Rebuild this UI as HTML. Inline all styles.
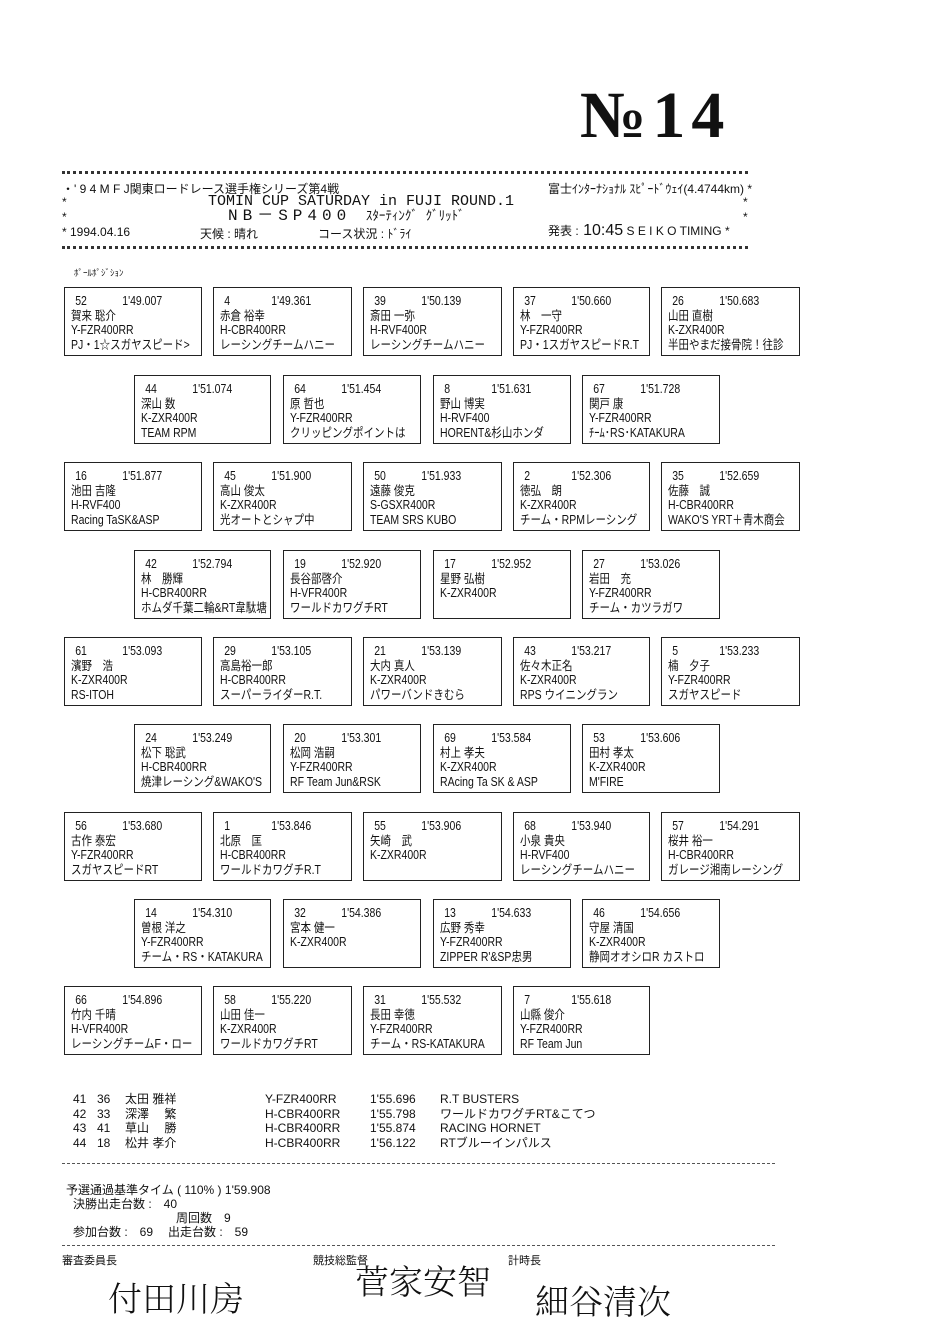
<!DOCTYPE html>
<html><head><meta charset="utf-8"><style>
body{margin:0;background:#fff;}
#p{position:relative;width:950px;height:1344px;overflow:hidden;background:#fff;color:#111;font-family:"Liberation Sans","Noto Sans CJK JP",sans-serif;font-size:12px;}
.a{position:absolute;white-space:nowrap;}
.b{position:absolute;width:135px;height:69px;border:1.5px solid #222;padding:6px 0 0 6px;box-sizing:border-box;line-height:14.5px;font-size:12.5px;overflow:hidden;}
.b .i{transform:scaleX(.84);transform-origin:0 0;white-space:nowrap;width:170px;}
.b span{display:inline-block;width:56px;padding-left:5px;}
.stars{position:absolute;left:62px;width:686px;height:0;border-top:3px dotted #333;}
.dash{position:absolute;left:62px;width:713px;border-top:1px dashed #555;}
.sig{position:absolute;font-family:"Noto Serif CJK SC","Noto Sans CJK JP",serif;font-size:34px;font-weight:300;white-space:nowrap;}
</style></head><body><div id="p">
<div class="a" style="left:580px;top:78px;font-family:'Liberation Serif',serif;font-size:66px;font-weight:bold;letter-spacing:6px;">№14</div>
<div class="stars" style="top:171px"></div>
<div class="stars" style="top:246px"></div>
<div class="a" style="left:62px;top:180px;">・' 9 4 M F J関東ロードレース選手権シリーズ第4戦</div>
<div class="a" style="left:548px;top:180px;">富士ｲﾝﾀｰﾅｼｮﾅﾙ ｽﾋﾟｰﾄﾞｳｪｲ(4.4744km) *</div>
<div class="a" style="left:62px;top:195px;">*</div><div class="a" style="left:743px;top:195px;">*</div>
<div class="a" style="left:208px;top:193px;font-family:'Liberation Mono',monospace;font-size:15px;">TOMIN CUP SATURDAY in FUJI ROUND.1</div>
<div class="a" style="left:62px;top:210px;">*</div><div class="a" style="left:743px;top:210px;">*</div>
<div class="a" style="left:228px;top:207px;font-family:'Liberation Mono',monospace;font-size:16px;letter-spacing:5px;line-height:18px;">NB－SP400 <span style="letter-spacing:0;font-size:13px;">ｽﾀｰﾃｨﾝｸﾞ ｸﾞﾘｯﾄﾞ</span></div>
<div class="a" style="left:62px;top:225px;">* 1994.04.16</div>
<div class="a" style="left:200px;top:225px;">天候 : 晴れ</div>
<div class="a" style="left:318px;top:225px;">コース状況 : ﾄﾞﾗｲ</div>
<div class="a" style="left:548px;top:222px;">発表 :<span style="font-size:16px;"> 10:45</span> S E I K O TIMING *</div>
<div class="a" style="left:74px;top:266px;font-size:9px;">ﾎﾟｰﾙﾎﾟｼﾞｼｮﾝ</div>

<div class="b" style="left:64px;top:287px;width:138px"><div class="i"><span>52</span>1'49.007<br>賀来 聡介<br>Y-FZR400RR<br>PJ・1☆スガヤスピード&gt;</div></div>
<div class="b" style="left:213px;top:287px;width:139px"><div class="i"><span>4</span>1'49.361<br>赤倉 裕幸<br>H-CBR400RR<br>レーシングチームハニー</div></div>
<div class="b" style="left:363px;top:287px;width:139px"><div class="i"><span>39</span>1'50.139<br>斎田 一弥<br>H-RVF400R<br>レーシングチームハニー</div></div>
<div class="b" style="left:513px;top:287px;width:137px"><div class="i"><span>37</span>1'50.660<br>林　一守<br>Y-FZR400RR<br>PJ・1スガヤスピードR.T</div></div>
<div class="b" style="left:661px;top:287px;width:139px"><div class="i"><span>26</span>1'50.683<br>山田 直樹<br>K-ZXR400R<br>半田やまだ接骨院！往診</div></div>

<div class="b" style="left:134px;top:375px;width:137px"><div class="i"><span>44</span>1'51.074<br>深山 数<br>K-ZXR400R<br>TEAM RPM</div></div>
<div class="b" style="left:283px;top:375px;width:138px"><div class="i"><span>64</span>1'51.454<br>原 哲也<br>Y-FZR400RR<br>クリッピングポイントは</div></div>
<div class="b" style="left:433px;top:375px;width:138px"><div class="i"><span>8</span>1'51.631<br>野山 博実<br>H-RVF400<br>HORENT&amp;杉山ホンダ</div></div>
<div class="b" style="left:582px;top:375px;width:138px"><div class="i"><span>67</span>1'51.728<br>関戸 康<br>Y-FZR400RR<br>ﾁｰﾑ･RS･KATAKURA</div></div>

<div class="b" style="left:64px;top:462px;width:138px"><div class="i"><span>16</span>1'51.877<br>池田 吉隆<br>H-RVF400<br>Racing TaSK&amp;ASP</div></div>
<div class="b" style="left:213px;top:462px;width:139px"><div class="i"><span>45</span>1'51.900<br>高山 俊太<br>K-ZXR400R<br>光オートとシャプ中</div></div>
<div class="b" style="left:363px;top:462px;width:139px"><div class="i"><span>50</span>1'51.933<br>遠藤 俊克<br>S-GSXR400R<br>TEAM SRS KUBO</div></div>
<div class="b" style="left:513px;top:462px;width:137px"><div class="i"><span>2</span>1'52.306<br>徳弘　朗<br>K-ZXR400R<br>チーム・RPMレーシング</div></div>
<div class="b" style="left:661px;top:462px;width:139px"><div class="i"><span>35</span>1'52.659<br>佐藤　誠<br>H-CBR400RR<br>WAKO'S YRT＋青木商会</div></div>

<div class="b" style="left:134px;top:550px;width:137px"><div class="i"><span>42</span>1'52.794<br>林　勝輝<br>H-CBR400RR<br>ホムダ千葉二輪&amp;RT韋駄塘</div></div>
<div class="b" style="left:283px;top:550px;width:138px"><div class="i"><span>19</span>1'52.920<br>長谷部啓介<br>H-VFR400R<br>ワールドカワグチRT</div></div>
<div class="b" style="left:433px;top:550px;width:138px"><div class="i"><span>17</span>1'52.952<br>星野 弘樹<br>K-ZXR400R</div></div>
<div class="b" style="left:582px;top:550px;width:138px"><div class="i"><span>27</span>1'53.026<br>岩田　充<br>Y-FZR400RR<br>チーム・カツラガワ</div></div>

<div class="b" style="left:64px;top:637px;width:138px"><div class="i"><span>61</span>1'53.093<br>濱野　浩<br>K-ZXR400R<br>RS-ITOH</div></div>
<div class="b" style="left:213px;top:637px;width:139px"><div class="i"><span>29</span>1'53.105<br>高島裕一郎<br>H-CBR400RR<br>スーパーライダーR.T.</div></div>
<div class="b" style="left:363px;top:637px;width:139px"><div class="i"><span>21</span>1'53.139<br>大内 真人<br>K-ZXR400R<br>パワーバンドきむら</div></div>
<div class="b" style="left:513px;top:637px;width:137px"><div class="i"><span>43</span>1'53.217<br>佐々木正名<br>K-ZXR400R<br>RPS ウイニングラン</div></div>
<div class="b" style="left:661px;top:637px;width:139px"><div class="i"><span>5</span>1'53.233<br>楠　夕子<br>Y-FZR400RR<br>スガヤスピード</div></div>

<div class="b" style="left:134px;top:724px;width:137px"><div class="i"><span>24</span>1'53.249<br>松下 聡武<br>H-CBR400RR<br>焼津レーシング&amp;WAKO'S</div></div>
<div class="b" style="left:283px;top:724px;width:138px"><div class="i"><span>20</span>1'53.301<br>松岡 浩嗣<br>Y-FZR400RR<br>RF Team Jun&amp;RSK</div></div>
<div class="b" style="left:433px;top:724px;width:138px"><div class="i"><span>69</span>1'53.584<br>村上 孝夫<br>K-ZXR400R<br>RAcing Ta SK &amp; ASP</div></div>
<div class="b" style="left:582px;top:724px;width:138px"><div class="i"><span>53</span>1'53.606<br>田村 孝太<br>K-ZXR400R<br>M'FIRE</div></div>

<div class="b" style="left:64px;top:812px;width:138px"><div class="i"><span>56</span>1'53.680<br>古作 泰宏<br>Y-FZR400RR<br>スガヤスピードRT</div></div>
<div class="b" style="left:213px;top:812px;width:139px"><div class="i"><span>1</span>1'53.846<br>北原　匡<br>H-CBR400RR<br>ワールドカワグチR.T</div></div>
<div class="b" style="left:363px;top:812px;width:139px"><div class="i"><span>55</span>1'53.906<br>矢崎　武<br>K-ZXR400R</div></div>
<div class="b" style="left:513px;top:812px;width:137px"><div class="i"><span>68</span>1'53.940<br>小泉 貴央<br>H-RVF400<br>レーシングチームハニー</div></div>
<div class="b" style="left:661px;top:812px;width:139px"><div class="i"><span>57</span>1'54.291<br>桜井 裕一<br>H-CBR400RR<br>ガレージ湘南レーシング</div></div>

<div class="b" style="left:134px;top:899px;width:137px"><div class="i"><span>14</span>1'54.310<br>曽根 洋之<br>Y-FZR400RR<br>チーム・RS・KATAKURA</div></div>
<div class="b" style="left:283px;top:899px;width:138px"><div class="i"><span>32</span>1'54.386<br>宮本 健一<br>K-ZXR400R</div></div>
<div class="b" style="left:433px;top:899px;width:138px"><div class="i"><span>13</span>1'54.633<br>広野 秀幸<br>Y-FZR400RR<br>ZIPPER R'&amp;SP忠男</div></div>
<div class="b" style="left:582px;top:899px;width:138px"><div class="i"><span>46</span>1'54.656<br>守屋 清国<br>K-ZXR400R<br>静岡オオシロR カストロ</div></div>

<div class="b" style="left:64px;top:986px;width:138px"><div class="i"><span>66</span>1'54.896<br>竹内 千晴<br>H-VFR400R<br>レーシングチームF・ロー</div></div>
<div class="b" style="left:213px;top:986px;width:139px"><div class="i"><span>58</span>1'55.220<br>山田 佳一<br>K-ZXR400R<br>ワールドカワグチRT</div></div>
<div class="b" style="left:363px;top:986px;width:139px"><div class="i"><span>31</span>1'55.532<br>長田 幸徳<br>Y-FZR400RR<br>チーム・RS-KATAKURA</div></div>
<div class="b" style="left:513px;top:986px;width:137px"><div class="i"><span>7</span>1'55.618<br>山縣 俊介<br>Y-FZR400RR<br>RF Team Jun</div></div>

<div class="a" style="left:73px;top:1092px;line-height:14.7px;">41<br>42<br>43<br>44</div>
<div class="a" style="left:97px;top:1092px;line-height:14.7px;">36<br>33<br>41<br>18</div>
<div class="a" style="left:125px;top:1092px;line-height:14.7px;">太田 雅祥<br>深澤　 繁<br>草山　 勝<br>松井 孝介</div>
<div class="a" style="left:265px;top:1092px;line-height:14.7px;">Y-FZR400RR<br>H-CBR400RR<br>H-CBR400RR<br>H-CBR400RR</div>
<div class="a" style="left:370px;top:1092px;line-height:14.7px;">1'55.696<br>1'55.798<br>1'55.874<br>1'56.122</div>
<div class="a" style="left:440px;top:1092px;line-height:14.7px;">R.T BUSTERS<br>ワールドカワグチRT&amp;こてつ<br>RACING HORNET<br>RTブルーインパルス</div>
<div class="dash" style="top:1163px"></div>
<div class="a" style="left:66px;top:1181px;">予選通過基準タイム ( 110% ) 1'59.908</div>
<div class="a" style="left:73px;top:1195px;">決勝出走台数 :　40</div>
<div class="a" style="left:176px;top:1209px;">周回数　9</div>
<div class="a" style="left:73px;top:1223px;">参加台数 :　69</div>
<div class="a" style="left:168px;top:1223px;">出走台数 :　59</div>
<div class="dash" style="top:1245px"></div>
<div class="a" style="left:62px;top:1252px;font-size:11px;">審査委員長</div>
<div class="a" style="left:313px;top:1252px;font-size:11px;">競技総監督</div>
<div class="a" style="left:508px;top:1252px;font-size:11px;">計時長</div>
<div class="sig" style="left:108px;top:1272px;">付田川房</div>
<div class="sig" style="left:355px;top:1255px;">菅家安智</div>
<div class="sig" style="left:535px;top:1275px;">細谷清次</div>
</div></body></html>
